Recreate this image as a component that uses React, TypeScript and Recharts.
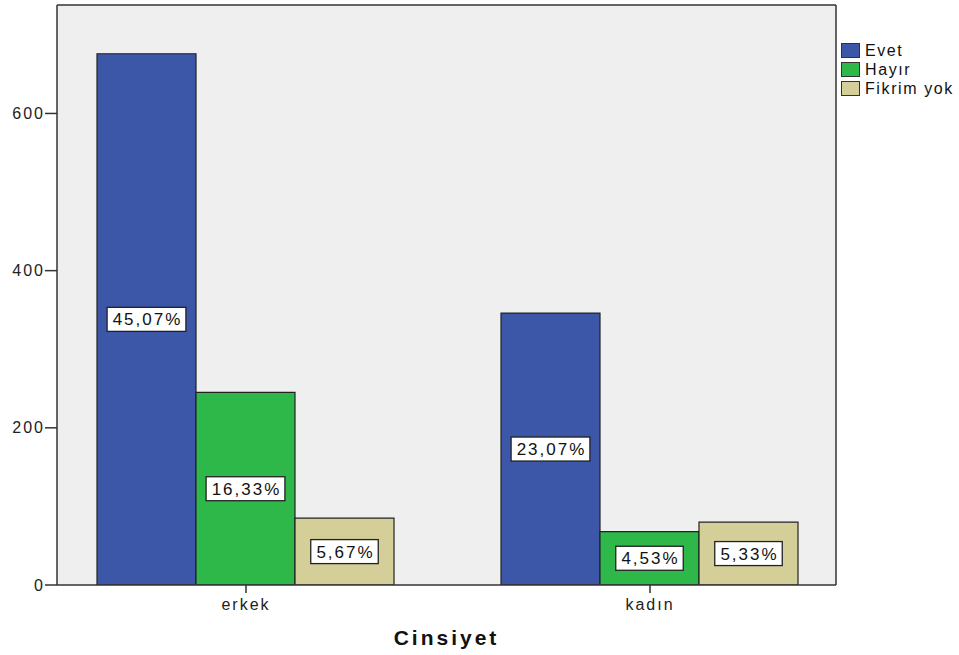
import React from "react";
import { BarChart, Bar, XAxis, YAxis, CartesianGrid, LabelList } from "recharts";

const categories = ["erkek", "kadın"];
const seriesNames = ["Evet", "Hayır", "Fikrim yok"];
const evet = [676, 346];
const hayir = [245, 68];
const fikrimYok = [85, 80];
const evetPct = ["45,07%", "23,07%"];
const hayirPct = ["16,33%", "4,53%"];
const fikrimPct = ["5,67%", "5,33%"];
const yTicks = [0, 200, 400, 600];
const colors = ["#3c56a8", "#2eb84a", "#d4cf99"];

const data = categories.map((c, i) => ({
  name: c,
  evet: evet[i],
  hayir: hayir[i],
  fikrim: fikrimYok[i],
  evetPct: evetPct[i],
  hayirPct: hayirPct[i],
  fikrimPct: fikrimPct[i],
}));

const FONT = "'Liberation Sans', Arial, sans-serif";

const BoxLabel = (props: any) => {
  const { x, y, width, height, value } = props;
  const cx = x + width / 2;
  const cy = y + height / 2;
  const w = String(value).length * 11.3 + 11;
  const h = 24;
  return (
    <g>
      <rect x={cx - w / 2} y={cy - h / 2} width={w} height={h} fill="#ffffff" stroke="#222" strokeWidth={1.3} />
      <text x={cx + 1} y={cy + 6} textAnchor="middle" fontSize={17} letterSpacing={2} fontFamily={FONT} fill="#111">
        {value}
      </text>
    </g>
  );
};

const LegendBox = () => (
  <div style={{ position: "absolute", left: 841, top: 41, fontFamily: FONT, fontSize: 16, letterSpacing: 1.6, color: "#111" }}>
    {seriesNames.map((n, i) => (
      <div key={n} style={{ display: "flex", alignItems: "center", height: 19 }}>
        <div style={{ width: 17, height: 13, background: colors[i], border: "1px solid #333", marginRight: 5 }} />
        <span>{n}</span>
      </div>
    ))}
  </div>
);

export default function App() {
  return (
    <div style={{ position: "absolute", left: 0, top: 0, width: 959, height: 655, background: "#fff" }}>
      <BarChart
        width={959}
        height={655}
        data={data}
        margin={{ top: 4, right: 122, bottom: 0, left: 0 }}
        barGap={0}
        barCategoryGap={53}
      >
        <CartesianGrid fill="#efefef" horizontal={false} vertical={false} />
        <XAxis
          dataKey="name"
          height={70}
          padding={{ left: -13, right: -16 }}
          axisLine={{ stroke: "#333", strokeWidth: 1.5 }}
          tickLine={{ stroke: "#333", strokeWidth: 1.5 }}
          tickSize={8}
          tickMargin={6}
          tick={{ fontSize: 16, letterSpacing: 2, fontFamily: FONT, fill: "#222" }}
          label={{ value: "Cinsiyet", position: "insideBottom", offset: 10, style: { fontSize: 21, letterSpacing: 3, fontWeight: "bold", fontFamily: FONT, fill: "#111" } }}
        />
        <XAxis xAxisId="top" orientation="top" dataKey="name" height={1} tick={false} tickLine={false} axisLine={{ stroke: "#333", strokeWidth: 1.5 }} />
        <YAxis
          width={57}
          domain={[0, 738]}
          ticks={yTicks}
          allowDataOverflow
          axisLine={{ stroke: "#333", strokeWidth: 1.5 }}
          tickLine={{ stroke: "#333", strokeWidth: 1.5 }}
          tickSize={12}
          tickMargin={0}
          tick={{ fontSize: 16, letterSpacing: 2, fontFamily: FONT, fill: "#222" }}
        />
        <YAxis yAxisId="right" orientation="right" width={1} tick={false} tickLine={false} axisLine={{ stroke: "#333", strokeWidth: 1.5 }} />
        <Bar dataKey="evet" name="Evet" fill={colors[0]} stroke="#222" strokeWidth={1.2} isAnimationActive={false}>
          <LabelList dataKey="evetPct" content={<BoxLabel />} />
        </Bar>
        <Bar dataKey="hayir" name="Hayır" fill={colors[1]} stroke="#222" strokeWidth={1.2} isAnimationActive={false}>
          <LabelList dataKey="hayirPct" content={<BoxLabel />} />
        </Bar>
        <Bar dataKey="fikrim" name="Fikrim yok" fill={colors[2]} stroke="#222" strokeWidth={1.2} isAnimationActive={false}>
          <LabelList dataKey="fikrimPct" content={<BoxLabel />} />
        </Bar>
      </BarChart>
      <LegendBox />
    </div>
  );
}
